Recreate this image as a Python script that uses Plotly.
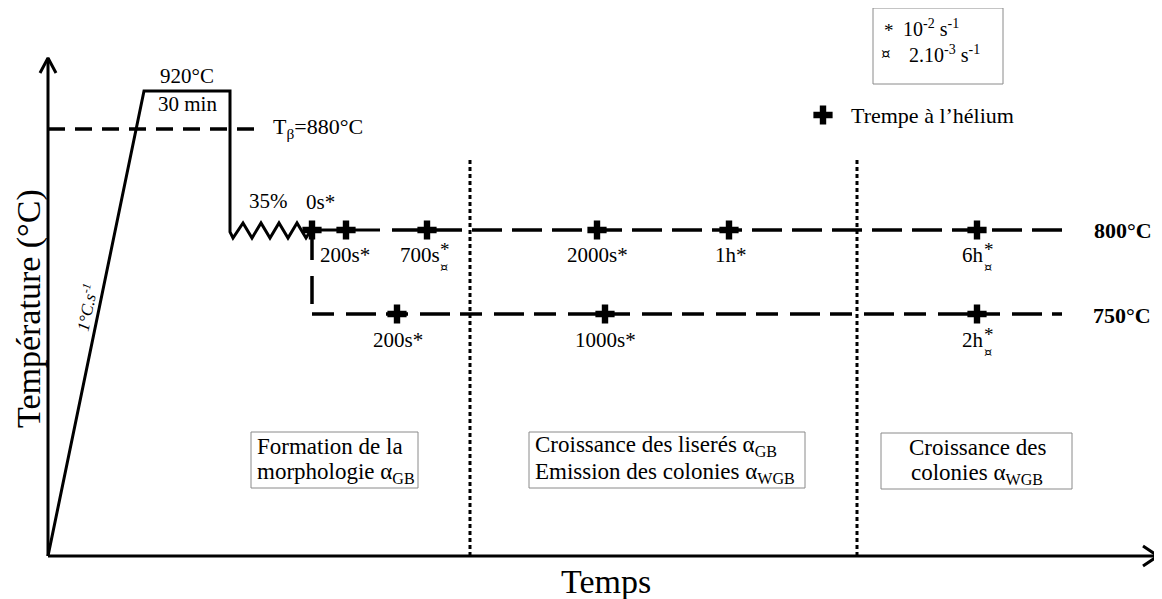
import plotly.graph_objects as go

# ---- schematic coordinates of the diagram (x: time axis units, y: temperature axis units) ----
W, H = 1162, 599
PAGE_MARGIN = 8  # default body margin of the html page
FONT = "Liberation Serif"

# thermal path: heating ramp, soak at 920°C, fall, deformation (zigzag) then 800°C hold
path_x = [48, 144, 230, 230, 233, 243, 252, 261, 270, 279, 288, 297, 306, 311, 380]
path_y = [43, 508, 508, 367, 361, 376, 361, 376, 361, 376, 361, 376, 361, 369, 369]

# isothermal holds
hold800_x = [392, 1065]
hold800_y = [369, 369]
drop_x = [312, 312]
drop_y = [367, 287]
hold750_x = [312, 1062]
hold750_y = [285, 285]

# beta transus
tbeta_x = [48, 263]
tbeta_y = [470, 470]

# stage separators
sep_x = [470, 857]
sep_top = [441, 439]

# axes
axis_origin = (48, 43)
yaxis_top = 541
xaxis_end = 1158

# helium quench points
q800_x = [312, 346, 427, 597, 729, 977]
q800_y = [369] * 6
q750_x = [397, 605, 977]
q750_y = [285] * 3

# quench time labels
lab800 = ["200s*", "2000s*", "1h*"]
lab800_x = [345, 597, 731]
lab750 = ["200s*", "1000s*"]
lab750_x = [398, 605]

fig = go.Figure()

def line(xs, ys, width=3, dash="solid"):
    fig.add_trace(go.Scatter(x=xs, y=ys, mode="lines",
                             line=dict(color="black", width=width, dash=dash),
                             hoverinfo="skip", showlegend=False))

# axes with open arrow heads
ox, oy = axis_origin
line([ox, ox], [oy, yaxis_top], 3)
line([ox - 8, ox, ox + 8], [yaxis_top - 15, yaxis_top, yaxis_top - 15], 3)
line([ox, xaxis_end], [oy, oy], 3)
line([xaxis_end - 15, xaxis_end, xaxis_end - 15], [oy + 10, oy, oy - 10], 3)

# thermal cycle
line(path_x, path_y, 3)
line(tbeta_x, tbeta_y, 3.5, "17px,10px")
line(hold800_x, hold800_y, 3.5, "30px,10px")
line(drop_x, drop_y, 3.5, "28px,16px")
line(hold750_x, hold750_y, 3.5, "22px,12px,30px,10px")

for sx, st in zip(sep_x, sep_top):
    line([sx, sx], [oy, st], 3, "4px,3px")

# quench markers
fig.add_trace(go.Scatter(x=q800_x + q750_x + [823], y=q800_y + q750_y + [484],
                         mode="markers",
                         marker=dict(symbol="cross", size=16, color="black",
                                     line=dict(width=0)),
                         hoverinfo="skip", showlegend=False))

ann = []

def txt(t, x, y, size=21, xa="center", ya="middle", angle=0, family=FONT):
    ann.append(dict(text=t, x=x, y=y, xref="x", yref="y", showarrow=False,
                    xanchor=xa, yanchor=ya, textangle=angle, borderpad=0,
                    font=dict(family=family, size=size, color="black")))

txt("920°C", 187, 523)
txt("30 min", 187, 495)
txt("T<sub>β</sub>=880°C", 272, 471, size=22, xa="left")
txt("35%", 268, 398)
txt("0s*", 320, 397)
txt("<i>1°C.s<sup>-1</sup></i>", 86, 291, size=17, angle=-78)

for t, x in zip(lab800, lab800_x):
    txt(t, x, 344)
for t, x in zip(lab750, lab750_x):
    txt(t, x, 259)

# labels with stacked * and ¤
for t, xr, yb in [("700s", 441, 344), ("6h", 985, 344), ("2h", 985, 259)]:
    txt(t, xr, yb, xa="right")
    txt("*", xr - 2, yb + 6, size=19, xa="left")
    txt("¤", xr - 2, yb - 12, size=13, xa="left", family="DejaVu Serif")

txt("<b>800°C</b>", 1123, 369, size=22)
txt("<b>750°C</b>", 1122, 284, size=22)

txt("Temps", 606, 18, size=34)
txt("Température (°C)", 29, 290, size=34, angle=-90)

# legend
txt("*", 883, 569, size=19, xa="left")
txt("10<sup>-2</sup> s<sup>-1</sup>", 902, 571, size=20, xa="left")
txt("¤", 880, 545, size=15, xa="left", family="DejaVu Serif")
txt("2.10<sup>-3</sup> s<sup>-1</sup>", 908, 545, size=20, xa="left")
txt("Trempe à l’hélium", 850, 484, size=22, xa="left")

# stage boxes
txt("Formation de la", 256, 153, size=23, xa="left")
txt("morphologie α<sub>GB</sub>", 256, 126, size=23, xa="left")
txt("Croissance des liserés α<sub>GB</sub>", 534, 153, size=23, xa="left")
txt("Emission des colonies α<sub>WGB</sub>", 534, 126, size=23, xa="left")
txt("Croissance des", 977, 152, size=23)
txt("colonies α<sub>WGB</sub>", 977, 125, size=23)

boxes = [(251, 418, 111, 167), (529, 805, 111, 167), (881, 1072, 110, 166), (873, 1003, 515, 591)]
shapes = [dict(type="rect", xref="x", yref="y", x0=a, x1=b, y0=c, y1=d,
               line=dict(color="#8a8a8a", width=1)) for a, b, c, d in boxes]

# the figure sits inside the page's default margin: shift the ranges so the
# diagram lands where it does in the reference
fig.update_layout(
    width=W - PAGE_MARGIN, height=H - PAGE_MARGIN,
    margin=dict(l=0, r=0, t=0, b=0),
    paper_bgcolor="white", plot_bgcolor="white",
    xaxis=dict(range=[PAGE_MARGIN, W], visible=False, fixedrange=True),
    yaxis=dict(range=[0, H - PAGE_MARGIN], visible=False, fixedrange=True),
    annotations=ann, shapes=shapes,
)
fig.write_html("out.html")
